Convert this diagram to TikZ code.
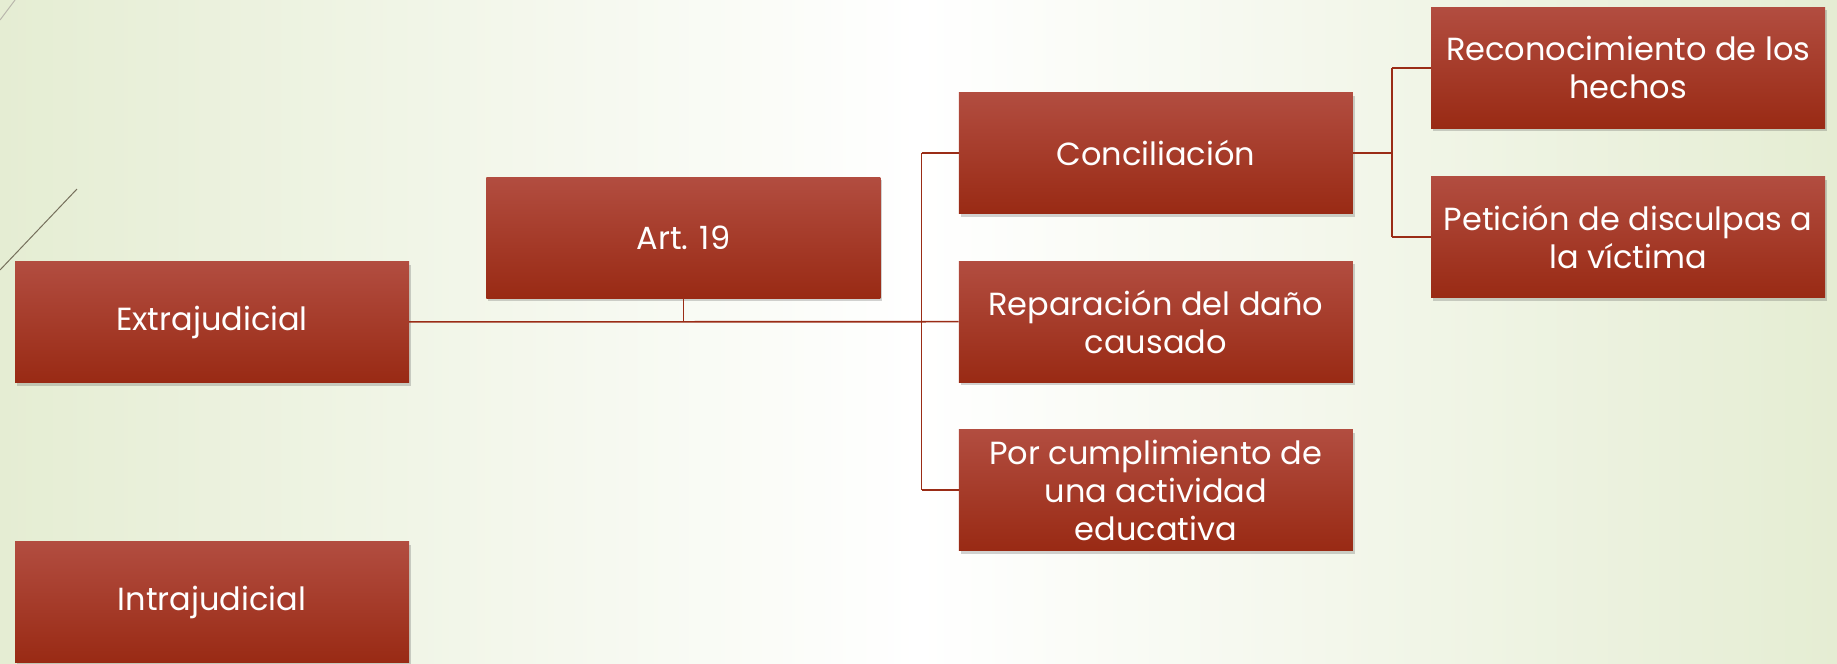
\documentclass[tikz,border=0pt]{standalone}
\usepackage{fontspec}
\setmainfont{Poppins}
\usetikzlibrary{positioning,shadows}
\definecolor{boxtop}{RGB}{178,77,64}
\definecolor{boxbot}{RGB}{153,42,20}
\definecolor{linkred}{RGB}{154,44,22}
\definecolor{bggreen}{RGB}{229,237,211}
\definecolor{decoline}{RGB}{118,112,92}

\begin{document}
\begin{tikzpicture}[x=1pt, y=-1pt,
    box/.style={rectangle, top color=boxtop, bottom color=boxbot, text=white,
        minimum width=394pt, minimum height=121pt, align=center,
        inner sep=0pt, font=\fontsize{32}{38}\selectfont,
        drop shadow={shadow xshift=2pt, shadow yshift=-3pt, opacity=.25, fill=black!70}},
    link/.style={draw=linkred, line width=1.6pt}]
    \useasboundingbox (0,0) rectangle (1837,664);
    % background
    \fill[left color=bggreen, right color=bggreen, middle color=white] (0,0) rectangle (1837,664);
    \draw[decoline!50, line width=1pt] (0,20) -- (15,0);
    \draw[decoline, line width=1pt] (0,270) -- (77,189);

    \node (ext) [box] at (212,322) {Extrajudicial};
    \node (intra) [box, below=159pt of ext] {Intrajudicial};
    \node (art) [box, above right=-37pt and 77pt of ext] {Art. 19};
    \node (conc) [box, above right=-37pt and 78pt of art] {Conciliación};
    \node (rep) [box, below=47pt of conc] {Reparación del daño\\causado};
    \node (cump) [box, below=47pt of rep] {Por cumplimiento de\\una actividad\\educativa};
    \node (recon) [box, above right=-36pt and 78pt of conc] {Reconocimiento de los\\hechos};
    \node (pet) [box, below=48pt of recon] {Petición de disculpas a\\la víctima};

    \coordinate [left=37pt of conc.west] (hub);
    \coordinate [left=39pt of recon.west] (subhub);

    \draw[link] (ext) -- (rep);
    \draw[link] (art) -- (art.south |- ext.east);
    \draw[link] (hub) -- (hub |- cump.west);
    \draw[link] (hub) -- (conc);
    \draw[link] (hub |- cump.west) -- (cump);
    \draw[link] (conc) -- (conc.east -| subhub);
    \draw[link] (subhub |- recon.west) -- (subhub |- pet.west);
    \draw[link] (subhub |- recon.west) -- (recon);
    \draw[link] (subhub |- pet.west) -- (pet);
\end{tikzpicture}
\end{document}
